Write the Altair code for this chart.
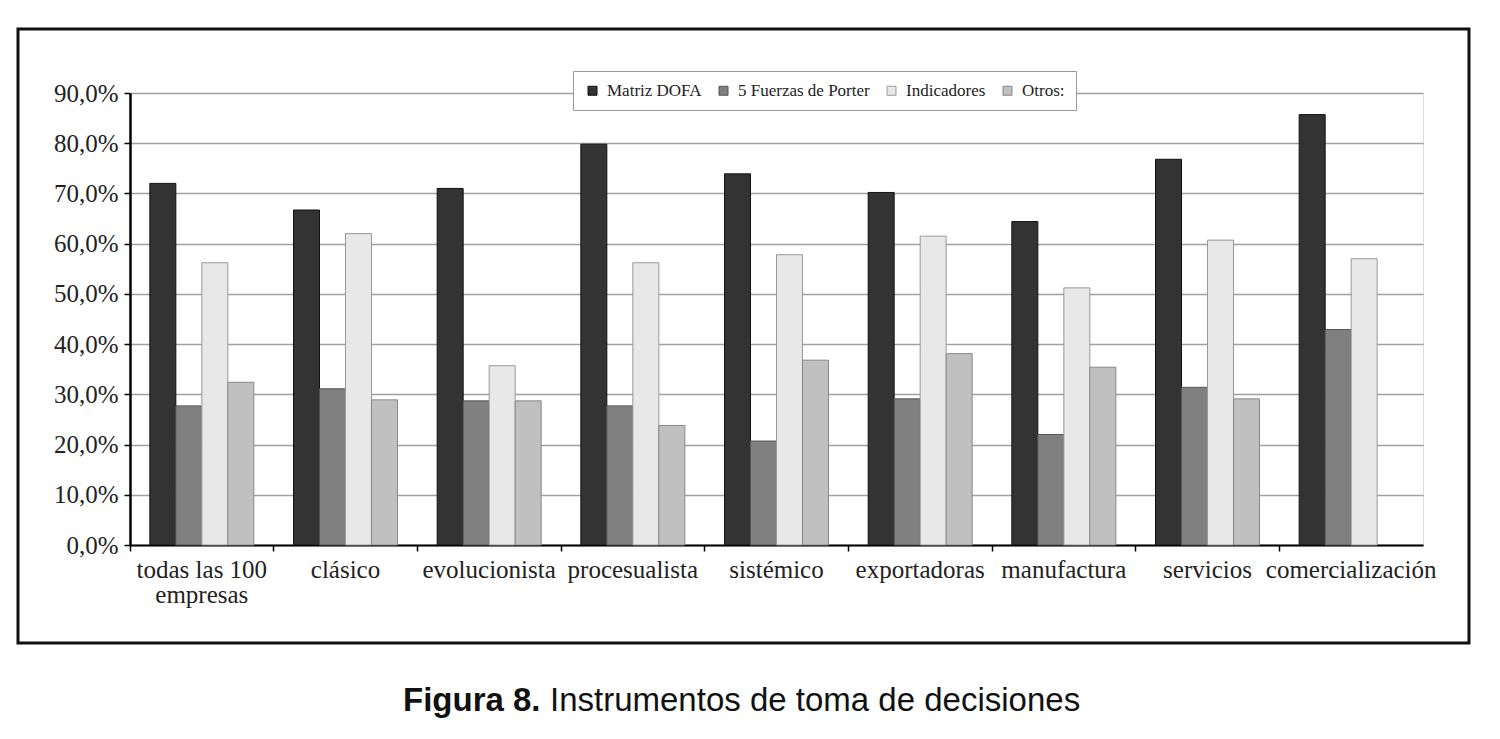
import altair as alt
import pandas as pd

categories = ["todas las 100 empresas", "clásico", "evolucionista", "procesualista",
              "sistémico", "exportadoras", "manufactura", "servicios", "comercialización"]
series = ["Matriz DOFA", "5 Fuerzas de Porter", "Indicadores", "Otros:"]
dofa = [72.0, 66.7, 71.0, 79.8, 73.9, 70.2, 64.4, 76.8, 85.7]
porter = [27.7, 31.1, 28.7, 27.7, 20.7, 29.1, 22.0, 31.4, 42.9]
indicadores = [56.2, 62.0, 35.7, 56.2, 57.8, 61.5, 51.2, 60.7, 57.0]
otros = [32.4, 28.9, 28.7, 23.8, 36.8, 38.1, 35.4, 29.1, 0.0]
y_ticks = [0, 10, 20, 30, 40, 50, 60, 70, 80, 90]
caption_bold = "Figura 8."
caption_text = "Instrumentos de toma de decisiones"

fills = ["#333333", "#808080", "#e8e8e8", "#c0c0c0"]
strokes = ["#111111", "#555555", "#999999", "#888888"]

rows = []
for name, vals in zip(series, [dofa, porter, indicadores, otros]):
    for c, v in zip(categories, vals):
        rows.append({"categoria": c, "serie": name, "valor": v})
df = pd.DataFrame(rows)

W, H = 1293, 452
SERIF = "Liberation Serif"

bars = alt.Chart(df).transform_filter("datum.valor > 0").mark_bar(strokeWidth=1).encode(
    x=alt.X("categoria:N", sort=categories,
            scale=alt.Scale(domain=categories, paddingInner=0, paddingOuter=0),
            axis=alt.Axis(title=None, bandPosition=0,
                          labelAngle=0, labelFont=SERIF, labelFontSize=25,
                          labelColor="#222222", labelPadding=6, labelLimit=0,
                          labelOverlap=False, labelLineHeight=25, labelBound=False,
                          labelExpr="datum.label == 'todas las 100 empresas' ? ['todas las 100', 'empresas'] : datum.label",
                          tickSize=6, tickColor="#000000", tickWidth=1.5,
                          domainColor="#000000", domainWidth=2, grid=False)),
    xOffset=alt.XOffset("serie:N", sort=series,
                        scale=alt.Scale(domain=series, paddingInner=0, paddingOuter=0.763)),
    y=alt.Y("valor:Q", scale=alt.Scale(domain=[0, 90], nice=False),
            axis=alt.Axis(title=None, values=y_ticks, labelFont=SERIF,
                          labelFontSize=25, labelColor="#222222", labelPadding=6,
                          labelExpr="replace(format(datum.value, '.1f'), '.', ',') + '%'",
                          tickSize=6, tickColor="#000000", tickWidth=1.5,
                          domainColor="#000000", domainWidth=2.5,
                          grid=True, gridColor="#a0a0a0", gridWidth=1.5)),
    fill=alt.Fill("serie:N", sort=series,
                  scale=alt.Scale(domain=series, range=fills),
                  legend=alt.Legend(title=None, orient="none", legendX=443, legendY=-22,
                                    direction="horizontal", fillColor="#ffffff",
                                    strokeColor="#999999", padding=11,
                                    symbolType="square", symbolSize=81,
                                    symbolStrokeColor="#333333", symbolStrokeWidth=1,
                                    labelFont=SERIF, labelFontSize=17,
                                    labelColor="#222222", labelOffset=6,
                                    columnPadding=13)),
    stroke=alt.Stroke("serie:N", sort=series,
                      scale=alt.Scale(domain=series, range=strokes), legend=None),
)

frame = alt.Chart(pd.DataFrame({"f": [1]})).mark_rect(
    filled=False, stroke="#111111", strokeWidth=3
).encode(x=alt.value(-112), x2=alt.value(1339), y=alt.value(-64), y2=alt.value(550))

cap1 = alt.Chart(pd.DataFrame({"t": [caption_bold]})).mark_text(
    font="Liberation Sans", fontSize=33, fontWeight="bold", align="left",
    baseline="alphabetic", color="#111111"
).encode(text="t:N", x=alt.value(273), y=alt.value(618))

cap2 = alt.Chart(pd.DataFrame({"t": [caption_text]})).mark_text(
    font="Liberation Sans", fontSize=33, align="left",
    baseline="alphabetic", color="#111111"
).encode(text="t:N", x=alt.value(420), y=alt.value(618))

chart = alt.layer(bars, frame, cap1, cap2).properties(
    width=W, height=H,
    autosize=alt.AutoSizeParams(type="none"),
    padding={"left": 122, "top": 85, "right": 60, "bottom": 180},
).configure_view(stroke="#666666", strokeWidth=1.5).configure(background="#ffffff")

chart.save("out.html", embed_options={"renderer": "svg", "actions": False})
